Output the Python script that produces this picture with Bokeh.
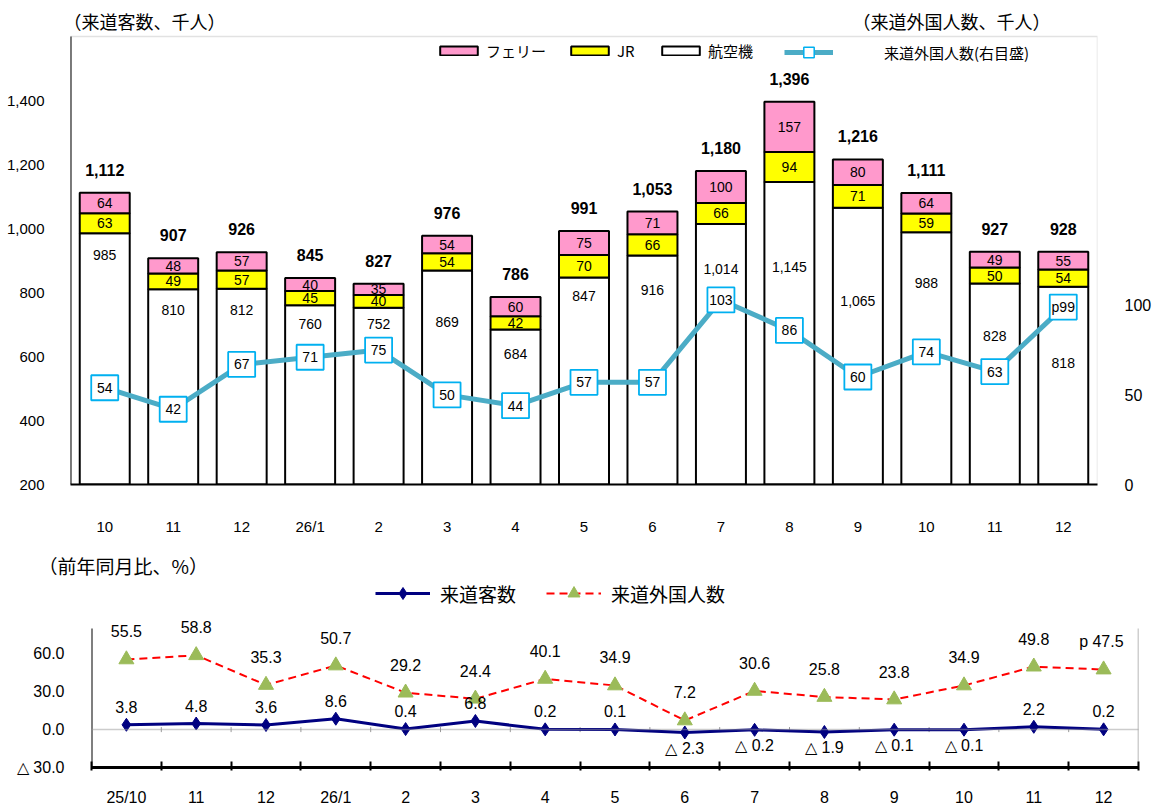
from bokeh.plotting import figure
from bokeh.models import (ColumnDataSource, Range1d, LinearAxis, FixedTicker, LabelSet, Label,
                          Legend, LegendItem, Span, NumeralTickFormatter, BoxAnnotation, Title)
from bokeh.embed import file_html
from bokeh.resources import INLINE
from bokeh.core.properties import value

# ---------------- data ----------------
months = ["10", "11", "12", "26/1", "2", "3", "4", "5", "6", "7", "8", "9", "10", "11", "12"]
air = [985, 810, 812, 760, 752, 869, 684, 847, 916, 1014, 1145, 1065, 988, 828, 818]
jr = [63, 49, 57, 45, 40, 54, 42, 70, 66, 66, 94, 71, 59, 50, 54]
ferry = [64, 48, 57, 40, 35, 54, 60, 75, 71, 100, 157, 80, 64, 49, 55]
total = [1112, 907, 926, 845, 827, 976, 786, 991, 1053, 1180, 1396, 1216, 1111, 927, 928]
foreign = [54, 42, 67, 71, 75, 50, 44, 57, 57, 103, 86, 60, 74, 63, 99]
foreign_text = ["54", "42", "67", "71", "75", "50", "44", "57", "57", "103", "86", "60", "74", "63", "p99"]

months_yoy = ["25/10", "11", "12", "26/1", "2", "3", "4", "5", "6", "7", "8", "9", "10", "11", "12"]
visitors_yoy = [3.8, 4.8, 3.6, 8.6, 0.4, 6.8, 0.2, 0.1, -2.3, -0.2, -1.9, -0.1, -0.1, 2.2, 0.2]
foreign_yoy = [55.5, 58.8, 35.3, 50.7, 29.2, 24.4, 40.1, 34.9, 7.2, 30.6, 25.8, 23.8, 34.9, 49.8, 47.5]
foreign_yoy_prefix = [""] * 14 + ["p  "]

left_ticks = [200, 400, 600, 800, 1000, 1200, 1400]
left_min, left_max = 200, 1600
right_ticks = [0, 50, 100]
right_min, right_max = 0, 250
yoy_ticks = [-30, 0, 30, 60]
yoy_min, yoy_max = -30, 80
yoy_tick_text = {-30: "△ 30.0", 0: "0.0", 30: "30.0", 60: "60.0"}

# label placement style (pixels below the top of the 航空機 segment)
air_label_drop = [22, 21, 21, 19, 16, 52, 24, 19, 35, 45, 85, 93, 51, 52, 76]

NUM_FONT = "Liberation Sans"
JP_FONT = "Noto Sans CJK JP"
PINK = "#FF99CC"
YELLOW = "#FFFF00"
LINE_BLUE = "#4BACC6"
BOX_BLUE = "#00B0F0"
FRAME_GRAY = "#A0A0A0"

n = len(months)
xs = list(range(n))

# ---------------- top chart ----------------
src = ColumnDataSource(dict(
    x=xs, air=air, jr=jr, ferry=ferry, total=total,
    air_txt=[f"{v:,}" for v in air],
    jr_txt=[str(v) for v in jr],
    ferry_txt=[str(v) for v in ferry],
    total_txt=[f"{v:,}" for v in total],
    jr_mid=[a + j / 2 for a, j in zip(air, jr)],
    ferry_mid=[a + j + f / 2 for a, j, f in zip(air, jr, ferry)],
    bar_top=[a + j + f for a, j, f in zip(air, jr, ferry)],
    air_off=[-d for d in air_label_drop],
    foreign=foreign, foreign_txt=foreign_text,
))

TOP_PAD = 31          # px of headroom above the plot box (titles / legend)
top_frame_h = 479     # px
left_scale = (top_frame_h - TOP_PAD) / (left_max - left_min)
right_scale = (top_frame_h - TOP_PAD) / (right_max - right_min)

p = figure(width=1156, height=547, x_range=Range1d(-0.5, n - 0.5),
           y_range=Range1d(left_min, left_min + top_frame_h / left_scale),
           output_backend="svg", toolbar_location=None,
           min_border_left=70, min_border_right=59, min_border_top=5, min_border_bottom=63)
p.extra_y_ranges = {"fx": Range1d(right_min, right_min + top_frame_h / right_scale)}
p.xgrid.visible = False
p.ygrid.visible = False
p.outline_line_color = None

p.add_layout(BoxAnnotation(left=-0.5, right=n - 0.5, bottom=left_min, top=left_max,
                           fill_alpha=0, line_color=FRAME_GRAY, line_width=1.5, level="underlay"))

bars = p.vbar_stack(["air", "jr", "ferry"], x="x", width=0.73, source=src,
                    fill_color=["white", YELLOW, PINK], line_color="black", line_width=2)
air_r, jr_r, ferry_r = bars

p.segment(x0=[-0.5], y0=[left_min], x1=[-0.5], y1=[left_max], line_color="black", line_width=2)

sq_legend = p.scatter("x", "foreign", source=src, marker="square", size=0, fill_color="white",
                      line_color=BOX_BLUE, line_width=1.5, y_range_name="fx")
line_r = p.line("x", "foreign", source=src, line_color=LINE_BLUE, line_width=5, y_range_name="fx")
p.rect("x", "foreign", source=src, width=27, height=25, width_units="screen", height_units="screen",
       fill_color="white", line_color=BOX_BLUE, line_width=1.8, y_range_name="fx")

p.add_layout(LabelSet(x="x", y="foreign", text="foreign_txt", source=src, y_range_name="fx",
                      text_align="center", text_baseline="middle", text_font_size="14px",
                      text_font=value(NUM_FONT), text_color="black"))
p.add_layout(LabelSet(x="x", y="air", text="air_txt", source=src, y_offset="air_off",
                      text_align="center", text_baseline="middle", text_font_size="14px",
                      text_font=value(NUM_FONT), text_color="black"))
p.add_layout(LabelSet(x="x", y="jr_mid", text="jr_txt", source=src,
                      text_align="center", text_baseline="middle", text_font_size="14px",
                      text_font=value(NUM_FONT), text_color="black"))
p.add_layout(LabelSet(x="x", y="ferry_mid", text="ferry_txt", source=src,
                      text_align="center", text_baseline="middle", text_font_size="14px",
                      text_font=value(NUM_FONT), text_color="black"))
p.add_layout(LabelSet(x="x", y="bar_top", text="total_txt", source=src, y_offset=23,
                      text_align="center", text_baseline="middle", text_font_size="16px",
                      text_font_style="bold", text_font=value(NUM_FONT), text_color="black"))

# axes
p.xaxis.ticker = FixedTicker(ticks=xs)
p.xaxis.major_label_overrides = {i: m for i, m in enumerate(months)}
p.xaxis.major_tick_line_color = None
p.xaxis.minor_tick_line_color = None
p.xaxis.axis_line_color = "black"
p.xaxis.axis_line_width = 2
p.xaxis.major_label_standoff = 27
p.xaxis.major_label_text_font = NUM_FONT
p.xaxis.major_label_text_font_size = "15px"
p.xaxis.major_label_text_color = "black"

p.yaxis.ticker = FixedTicker(ticks=left_ticks)
p.yaxis.formatter = NumeralTickFormatter(format="0,0")
p.yaxis.major_tick_line_color = None
p.yaxis.minor_tick_line_color = None
p.yaxis.axis_line_color = None
p.yaxis.major_label_standoff = 20
p.yaxis.major_label_text_font = NUM_FONT
p.yaxis.major_label_text_font_size = "15px"
p.yaxis.major_label_text_color = "black"

ry = LinearAxis(y_range_name="fx", ticker=FixedTicker(ticks=right_ticks))
ry.axis_line_color = None
ry.major_tick_line_color = None
ry.minor_tick_line_color = None
ry.major_label_standoff = 21
ry.major_label_text_font = NUM_FONT
ry.major_label_text_font_size = "16px"
ry.major_label_text_color = "black"
p.add_layout(ry, "right")

# titles (inside the headroom)
p.add_layout(Label(x=-0.5, y=left_max, x_offset=-7, y_offset=16, text="（来道客数、千人）",
                   text_align="left", text_baseline="middle", text_font=JP_FONT,
                   text_font_size="18px", text_color="black"))
p.add_layout(Label(x=n - 0.5, y=left_max, x_offset=-47, y_offset=16, text="（来道外国人数、千人）",
                   text_align="right", text_baseline="middle", text_font=JP_FONT,
                   text_font_size="18px", text_color="black"))

# legends
legA = Legend(items=[LegendItem(label="フェリー", renderers=[ferry_r]),
                     LegendItem(label="JR", renderers=[jr_r]),
                     LegendItem(label="航空機", renderers=[air_r])],
              orientation="horizontal", location=(365, 423), glyph_width=47, glyph_height=11,
              label_height=17, label_standoff=4, spacing=20, padding=0, margin=0,
              border_line_color=None, background_fill_alpha=0,
              label_text_font=JP_FONT, label_text_font_size="15px", label_text_color="black")
legB = Legend(items=[LegendItem(label="来道外国人数(右目盛)", renderers=[line_r, sq_legend])],
              orientation="horizontal", location=(714, 419), glyph_width=49, glyph_height=26,
              label_height=17, label_standoff=51, padding=0, margin=0,
              border_line_color=None, background_fill_alpha=0,
              label_text_font=JP_FONT, label_text_font_size="15px", label_text_color="black")
p.add_layout(legA)
p.add_layout(legB)

# ---------------- bottom chart ----------------
src2 = ColumnDataSource(dict(
    x=xs, vis=visitors_yoy, fgn=foreign_yoy,
    vis_txt=[(f"{v:.1f}" if v >= 0 else f"△ {abs(v):.1f}") for v in visitors_yoy],
    vis_off=[18 if v >= 0 else -16 for v in visitors_yoy],
    fgn_txt=[pre + f"{v:.1f}" for pre, v in zip(foreign_yoy_prefix, foreign_yoy)],
))
bounds = [i + 0.5 for i in range(n - 1)]

BOT_PAD = 50          # px headroom above the plot box (legend)
bot_frame_h = 189
yoy_scale = (bot_frame_h - BOT_PAD) / (yoy_max - yoy_min)

p2 = figure(width=1156, height=261, x_range=Range1d(-0.5, n - 0.5),
            y_range=Range1d(yoy_min, yoy_min + bot_frame_h / yoy_scale),
            output_backend="svg", toolbar_location=None,
            min_border_left=91, min_border_right=18, min_border_top=31, min_border_bottom=41)
p2.xgrid.visible = False
p2.ygrid.visible = False
p2.outline_line_color = None

p2.add_layout(Span(location=0, dimension="width", line_color="#999999", line_width=1.5,
                   line_dash="1 1"))
p2.segment(x0=bounds, y0=[-2] * len(bounds), x1=bounds, y1=[2] * len(bounds),
           line_color="#999999", line_width=1)
p2.segment(x0=[-0.5], y0=[yoy_min], x1=[-0.5], y1=[yoy_max], line_color="black", line_width=2)
p2.segment(x0=[n - 0.5], y0=[yoy_min], x1=[n - 0.5], y1=[yoy_max], line_color=FRAME_GRAY,
           line_width=1.5)

vis_line = p2.line("x", "vis", source=src2, line_color="#000080", line_width=3)
vis_mk = p2.scatter("x", "vis", source=src2, marker="diamond", size=13, fill_color="#000080",
                    line_color="#000080")
fgn_line = p2.line("x", "fgn", source=src2, line_color="#FF0000", line_width=2, line_dash="8 5")
fgn_mk = p2.scatter("x", "fgn", source=src2, marker="triangle", size=15, fill_color="#9BBB59",
                    line_color="#9BBB59")

p2.add_layout(LabelSet(x="x", y="fgn", text="fgn_txt", source=src2, y_offset=28,
                       text_align="center", text_baseline="middle", text_font_size="16px",
                       text_font=value(NUM_FONT), text_color="black"))
p2.add_layout(LabelSet(x="x", y="vis", text="vis_txt", source=src2, y_offset="vis_off",
                       text_align="center", text_baseline="middle", text_font_size="16px",
                       text_font=value(NUM_FONT), text_color="black"))

p2.xaxis.ticker = FixedTicker(ticks=xs, minor_ticks=[-0.5] + bounds + [n - 0.5])
p2.xaxis.major_label_overrides = {i: m for i, m in enumerate(months_yoy)}
p2.xaxis.major_tick_line_color = None
p2.xaxis.minor_tick_line_color = "black"
p2.xaxis.minor_tick_line_width = 2
p2.xaxis.minor_tick_in = 6
p2.xaxis.minor_tick_out = 3
p2.xaxis.axis_line_color = "black"
p2.xaxis.axis_line_width = 3
p2.xaxis.major_label_standoff = 15
p2.xaxis.major_label_text_font = NUM_FONT
p2.xaxis.major_label_text_font_size = "16px"
p2.xaxis.major_label_text_color = "black"

p2.yaxis.ticker = FixedTicker(ticks=yoy_ticks)
p2.yaxis.major_label_overrides = yoy_tick_text
p2.yaxis.major_tick_line_color = None
p2.yaxis.minor_tick_line_color = None
p2.yaxis.axis_line_color = None
p2.yaxis.major_label_standoff = 21
p2.yaxis.major_label_text_font = NUM_FONT
p2.yaxis.major_label_text_font_size = "16px"
p2.yaxis.major_label_text_color = "black"

p2.add_layout(Title(text="（前年同月比、%）", align="left", offset=-53, standoff=0,
                    text_font=JP_FONT, text_font_size="19px", text_font_style="normal",
                    text_color="black"), "above")

legC = Legend(items=[LegendItem(label="来道客数", renderers=[vis_line, vis_mk]),
                     LegendItem(label="来道外国人数", renderers=[fgn_line, fgn_mk])],
              orientation="horizontal", location=(284, 159), glyph_width=55, glyph_height=30,
              label_standoff=10, spacing=30, padding=0, margin=0,
              border_line_color=None, background_fill_alpha=0,
              label_text_font=JP_FONT, label_text_font_size="19px", label_text_color="black")
p2.add_layout(legC)

open("out.html", "w").write(file_html([p, p2], INLINE))
